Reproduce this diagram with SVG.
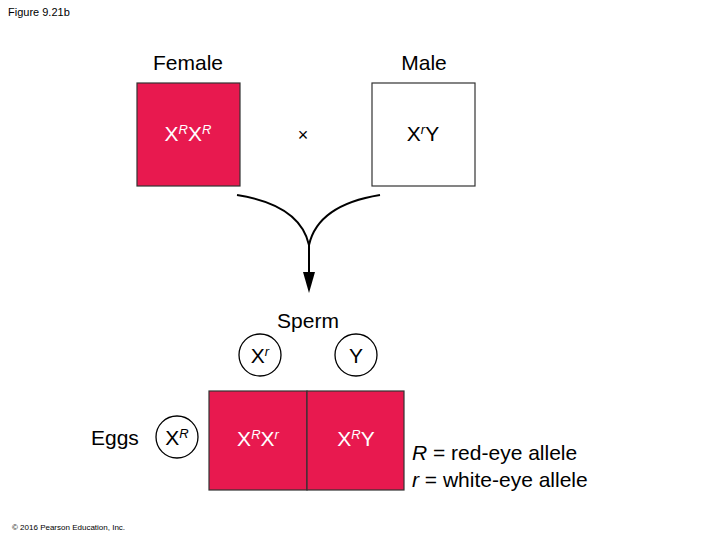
<svg xmlns="http://www.w3.org/2000/svg" width="720" height="540" viewBox="0 0 720 540">
<style>
text{font-family:"Liberation Sans",Arial,sans-serif}
.red{fill:#e8194f;stroke:#333;stroke-width:1.2}
.wbox{fill:#fff;stroke:#333;stroke-width:1.2}
.circ{fill:#fff;stroke:#000;stroke-width:1.3}
.g{font-size:21px}
.w{fill:#fff}
.sup{font-size:13px;font-style:italic}
</style>
<defs><marker id="ah" markerWidth="10" markerHeight="14" refX="5" refY="13" orient="auto" markerUnits="userSpaceOnUse"><path d="M0,0 L10,0 L5,14 Z" fill="#000" transform="rotate(-90 5 7) rotate(90 5 7)"/></marker></defs>
<text x="8" y="16" font-size="11">Figure 9.21b</text>
<text x="188" y="70" font-size="21" text-anchor="middle">Female</text>
<text x="424" y="70" font-size="21" text-anchor="middle">Male</text>
<g id="female"><rect class="red" x="137" y="83" width="103" height="103"/>
<text x="188" y="141" class="g w" text-anchor="middle">X<tspan class="sup" dy="-7">R</tspan><tspan dy="7">X</tspan><tspan class="sup" dy="-7">R</tspan></text></g>
<text x="303" y="141" font-size="18" text-anchor="middle">×</text>
<g id="male"><rect class="wbox" x="372" y="83" width="103" height="103"/>
<text x="423" y="141" class="g" text-anchor="middle">X<tspan class="sup" dy="-7">r</tspan><tspan dy="7">Y</tspan></text></g>
<g id="connectors" fill="none" stroke="#000" stroke-width="2">
<path d="M237,195 Q300,205 309,245"/>
<path d="M380,195 Q318,205 309,245"/>
<path d="M309,244 L309,275"/>
<path d="M303,272 L315,272 L309,293 Z" fill="#000" stroke="none"/>
</g>
<text x="308" y="328" font-size="21" text-anchor="middle">Sperm</text>
<g id="sperm-Xr"><circle class="circ" cx="260" cy="355" r="21"/><text x="260" y="363" class="g" text-anchor="middle">X<tspan class="sup" dy="-7">r</tspan></text></g>
<g id="sperm-Y"><circle class="circ" cx="356" cy="355" r="21"/><text x="356" y="363" class="g" text-anchor="middle">Y</text></g>
<text x="91" y="445" font-size="21">Eggs</text>
<g id="egg-XR"><circle class="circ" cx="177" cy="437" r="21"/><text x="177" y="445" class="g" text-anchor="middle">X<tspan class="sup" dy="-7">R</tspan></text></g>
<g id="cell1"><rect class="red" x="209" y="391" width="98" height="99"/><text x="258" y="446" class="g w" text-anchor="middle">X<tspan class="sup" dy="-7">R</tspan><tspan dy="7">X</tspan><tspan class="sup" dy="-7">r</tspan></text></g>
<g id="cell2"><rect class="red" x="307" y="391" width="97" height="99"/><text x="356" y="446" class="g w" text-anchor="middle">X<tspan class="sup" dy="-7">R</tspan><tspan dy="7">Y</tspan></text></g>
<text x="412" y="460" font-size="21"><tspan font-style="italic">R</tspan> = red-eye allele</text>
<text x="412" y="487" font-size="21"><tspan font-style="italic">r</tspan>  = white-eye allele</text>
<text x="12" y="530" font-size="8">© 2016 Pearson Education, Inc.</text>
</svg>
